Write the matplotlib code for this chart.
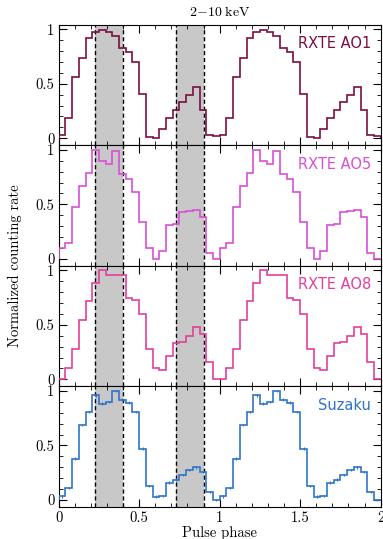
import numpy as np
import matplotlib
matplotlib.use("Agg")
import matplotlib.pyplot as plt
from matplotlib.ticker import MultipleLocator

plt.rcParams['font.family'] = 'serif'
plt.rcParams['font.serif'] = ['cmr10', 'DejaVu Serif']
plt.rcParams['mathtext.fontset'] = 'cm'
plt.rcParams['axes.formatter.use_mathtext'] = True

# 24 phase bins per cycle, profile repeated over two cycles
ao1 = [0.033, 0.185, 0.56, 0.735, 0.918, 0.979, 0.994, 0.973, 0.939, 0.83, 0.79, 0.696,
       0.407, 0.015, 0.0, 0.082, 0.185, 0.255, 0.33, 0.395, 0.468, 0.264, 0.027, 0.018]
ao5 = [0.098, 0.143, 0.48, 0.668, 0.79, 1.0, 0.90, 0.87, 0.99, 0.78, 0.73, 0.61,
       0.34, 0.10, 0.0, 0.076, 0.31, 0.32, 0.43, 0.44, 0.448, 0.38, 0.055, 0.0]
ao8 = [0.006, 0.10, 0.275, 0.547, 0.716, 0.887, 1.0, 0.96, 0.954, 0.954, 0.746, 0.725,
       0.60, 0.275, 0.104, 0.089, 0.217, 0.33, 0.34, 0.40, 0.477, 0.42, 0.159, 0.0]
suzaku = [0.033, 0.109, 0.379, 0.688, 0.809, 0.96, 0.885, 0.90, 1.0, 0.921, 0.894, 0.806,
          0.47, 0.127, 0.03, 0.036, 0.158, 0.185, 0.227, 0.276, 0.30, 0.258, 0.073, 0.0]
suzaku_err = [0.012] * 24

labels = ['RXTE AO1', 'RXTE AO5', 'RXTE AO8', 'Suzaku']
colors = ['#7b0d42', '#d94fd6', '#e33e9b', '#2f74c8']
profiles = [ao1, ao5, ao8, suzaku]
shade_regions = [(0.225, 0.40), (0.73, 0.90)]

edges = np.linspace(0, 2, 49)
centers = 0.5 * (edges[:-1] + edges[1:])

fig = plt.figure(figsize=(3.83, 5.39), dpi=100)
left, right, top, bottom = 0.1532, 0.994, 0.954, 0.0594
h = (top - bottom) / 4
axes = []
for i in range(4):
    ax = fig.add_axes([left, top - (i + 1) * h, right - left, h])
    axes.append(ax)
    vals = np.concatenate([profiles[i], profiles[i]])
    for (a, b) in shade_regions:
        ax.axvspan(a, b, color='#c8c8c8', lw=0, zorder=0)
        ax.axvline(a, color='k', ls='--', lw=1.0, zorder=1, dashes=(3, 2))
        ax.axvline(b, color='k', ls='--', lw=1.0, zorder=1, dashes=(3, 2))
    ax.stairs(vals, edges, color=colors[i], lw=1.2, zorder=3)
    if labels[i] == 'Suzaku':
        errs = np.concatenate([suzaku_err, suzaku_err])
        ax.errorbar(centers, vals, yerr=errs, fmt='none', ecolor=colors[i], lw=0.8, zorder=3)
    ax.set_xlim(0, 2)
    ax.set_ylim(-0.065, 1.042)
    ax.set_yticks([0, 0.5, 1])
    ax.set_yticklabels(['0', '0.5', '1'])
    ax.yaxis.set_minor_locator(MultipleLocator(0.1))
    ax.xaxis.set_major_locator(MultipleLocator(0.5))
    ax.xaxis.set_minor_locator(MultipleLocator(0.1))
    ax.tick_params(which='both', direction='in', top=True, right=True, labelsize=10.5, pad=3)
    ax.tick_params(which='major', length=6, width=0.8)
    ax.tick_params(which='minor', length=3, width=0.6)
    for s in ax.spines.values():
        s.set_linewidth(0.8)
    ax.text(0.97, 0.845, labels[i], transform=ax.transAxes, ha='right', va='center',
            color=colors[i], fontsize=10.5, family='DejaVu Sans')
    if i < 3:
        ax.tick_params(labelbottom=False)
    else:
        ax.set_xticks([0, 0.5, 1, 1.5, 2])
        ax.set_xticklabels(['0', '0.5', '1', '1.5', '2'])

axes[-1].set_xlabel('Pulse phase', fontsize=10.5, labelpad=1)
fig.text(0.04, (top + bottom) / 2, 'Normalized counting rate', rotation=90,
         ha='center', va='center', fontsize=10.5)
fig.text(0.573, 0.978, r'$\mathrm{2\!-\!10\;keV}$', ha='center', va='center', fontsize=10)

fig.savefig('out.png', dpi=100)
